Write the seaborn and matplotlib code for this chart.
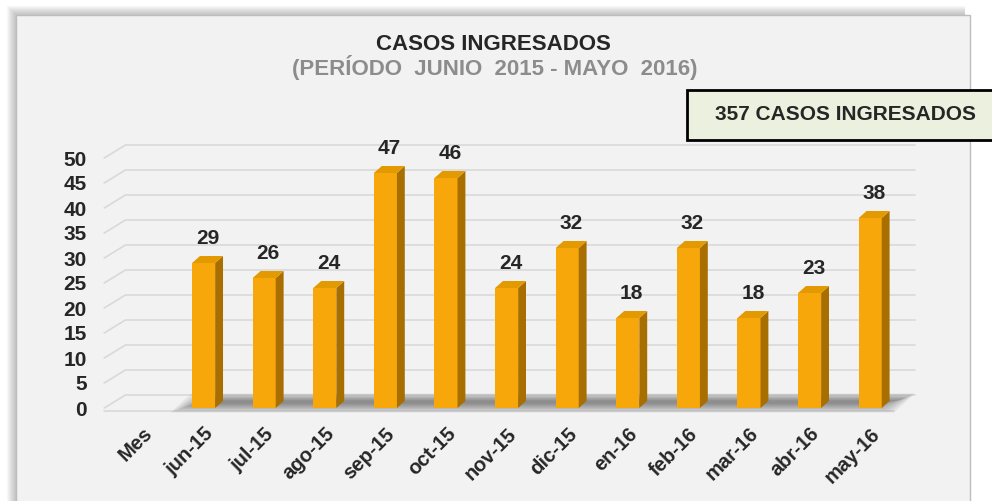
import numpy as np
import matplotlib.pyplot as plt
import seaborn as sns
from matplotlib.patches import Polygon, Rectangle

meses = ['Mes', 'jun-15', 'jul-15', 'ago-15', 'sep-15', 'oct-15', 'nov-15',
         'dic-15', 'en-16', 'feb-16', 'mar-16', 'abr-16', 'may-16']
casos = [np.nan, 29, 26, 24, 47, 46, 24, 32, 18, 32, 18, 23, 38]
yticks = list(range(0, 55, 5))
titulo = 'CASOS INGRESADOS'
subtitulo = '(PERÍODO  JUNIO  2015 - MAYO  2016)'
total = '357 CASOS INGRESADOS'

W, H = 992, 501
sns.set_theme(style='white')
plt.rcParams['font.family'] = ['Liberation Sans', 'DejaVu Sans']

fig = plt.figure(figsize=(W / 100, H / 100), dpi=100)
fig.patch.set_facecolor('white')


def fx(px):
    return px / W


def fy(py):
    return 1 - py / H


def frect(x0, y0, x1, y1, **kw):
    # rectangle in figure pixel coords (top-left origin)
    r = Rectangle((fx(x0), fy(y1)), (x1 - x0) / W, (y1 - y0) / H,
                  transform=fig.transFigure, **kw)
    fig.patches.append(r)
    return r


# panel with soft shadow on the top/left
for off in range(9, 0, -1):
    frect(16 - off, 15 - off, 965, 560, facecolor='#808080', alpha=0.06,
          edgecolor='none', zorder=-10)
frect(16, 15, 970, 560, facecolor='#f2f2f2', edgecolor='#bdbdbd', lw=1,
      zorder=-9)

ax = fig.add_axes([fx(100.6), fy(413), (930.8 - 100.6) / W, 280 / H])
ax.set_facecolor('none')

sns.barplot(x=meses, y=casos, order=meses, ax=ax, color='#f7a70a',
            saturation=1, width=0.38, linewidth=0, zorder=3)

ax.set_xlim(-0.7, 13.0)
ax.set_ylim(-1, 55)

# perspective offsets (depth of the 3D floor / walls and of the bars)
dx, dy = 0.35, 2.6
bdx, bdy = 0.13, 1.4
x0, xr = -0.64, 12.74

for v in yticks:
    ax.plot([x0, x0 + dx, xr], [v, v + dy, v + dy], color='#d9d9d9',
            lw=1.2, zorder=0, clip_on=False)
ax.plot([x0, xr - dx], [-0.5, -0.5], color='#d9d9d9', lw=1.2, zorder=0)

# blurred floor shadow under the bars
for k in range(9):
    gx, gy = 0.05 * k, 0.22 * k
    ax.add_patch(Polygon([(0.45 + gx, -0.9 + gy), (xr - dx - gx, -0.9 + gy),
                          (xr - gx * 0.6, dy + 0.3 - gy * 0.8),
                          (0.45 + dx + gx, dy + 0.3 - gy * 0.8)],
                         closed=True, facecolor='#303030', alpha=0.075,
                         edgecolor='none', zorder=1))

for p in list(ax.patches):
    if not isinstance(p, Rectangle):
        continue
    h = p.get_height()
    if not np.isfinite(h) or h == 0:
        continue
    x, w = p.get_x(), p.get_width()
    ax.add_patch(Polygon([(x + w, 0), (x + w + bdx, bdy), (x + w + bdx, h + bdy), (x + w, h)],
                         closed=True, facecolor='#a86f00', edgecolor='none', zorder=3))
    ax.add_patch(Polygon([(x, h), (x + bdx, h + bdy), (x + w + bdx, h + bdy), (x + w, h)],
                         closed=True, facecolor='#e39a00', edgecolor='none', zorder=3))
    ax.text(x + w / 2 + bdx / 2, h + bdy + 2.4, f'{h:.0f}', ha='center',
            va='baseline', fontsize=15, fontweight='bold', color='#262626')

ax.set_yticks(yticks)
ax.set_yticklabels([str(v) for v in yticks], fontsize=15, fontweight='bold',
                   color='#262626')
ax.tick_params(axis='y', length=0, pad=10)
ax.tick_params(axis='x', length=0, pad=8)
plt.setp(ax.get_xticklabels(), rotation=45, ha='right', rotation_mode='anchor',
         fontsize=14.5, fontweight='bold', color='#262626')
for s in ax.spines.values():
    s.set_visible(False)
ax.set_xlabel('')
ax.set_ylabel('')

fig.text(fx(493), fy(44), titulo, ha='center', va='center', fontsize=16,
         fontweight='bold', color='#262626')
fig.text(fx(495), fy(68), subtitulo, ha='center', va='center', fontsize=16,
         fontweight='bold', color='#8c8c8c')

frect(687, 90, 1010, 140, facecolor='#ebf1de', edgecolor='#000000', lw=2)
fig.text(fx(715), fy(115), total, ha='left', va='center', fontsize=15,
         fontweight='bold', color='#262626')

fig.savefig('out.png', dpi=100)
